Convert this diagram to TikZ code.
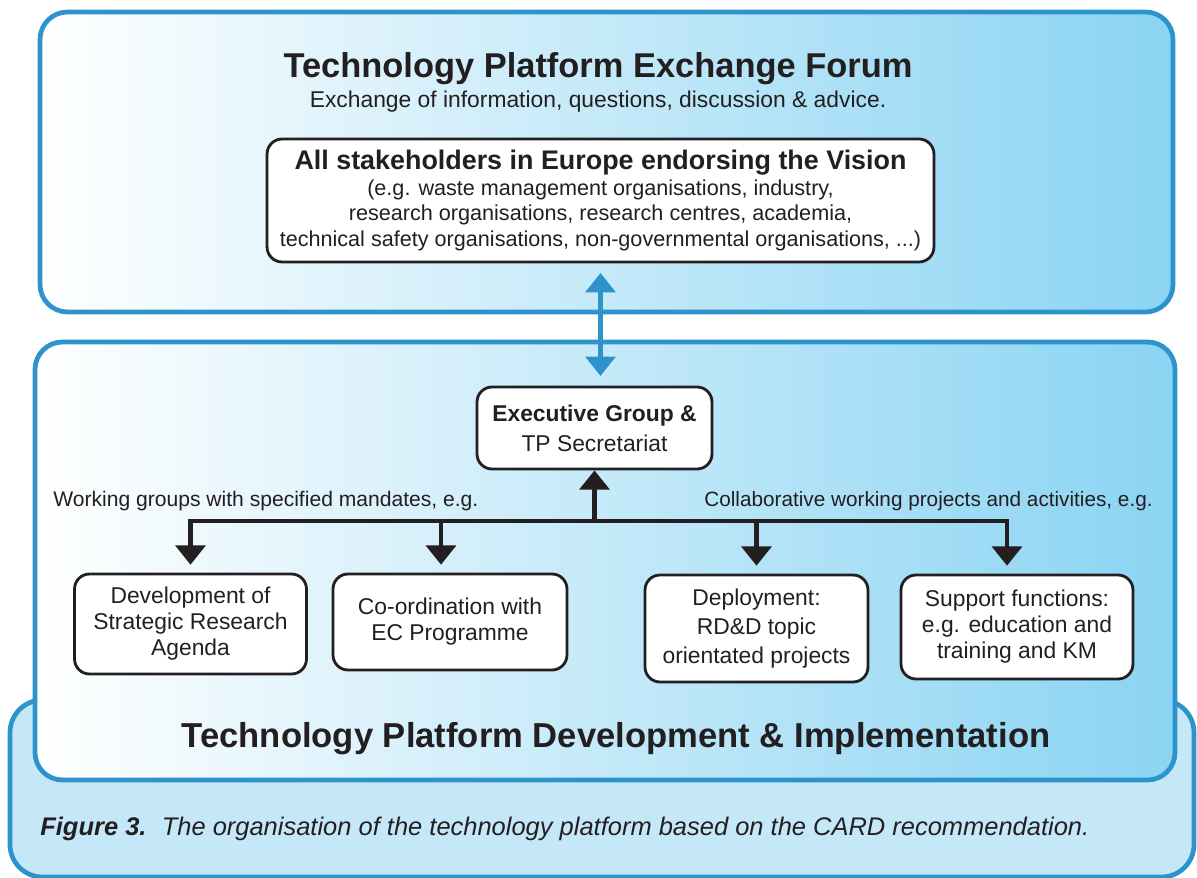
\documentclass[tikz,border=0pt]{standalone}
\usepackage{fontspec}
\setmainfont{Liberation Sans}
\usetikzlibrary{arrows.meta,positioning,calc}
\definecolor{panelblue}{HTML}{2E93CB}
\definecolor{panelsky}{HTML}{8AD4F3}
\definecolor{panelpale}{HTML}{C5E8F9}
\definecolor{ink}{HTML}{231F20}
\tikzstyle{panelstyle}=[
    draw=panelblue,
    line width=2.7pt,
    rounded corners=0.55cm,
    left color=white,
    right color=panelsky,
]
\tikzstyle{whitebox}=[
    draw=ink, fill=white,
    line width=1.6pt,
    rounded corners=0.3cm,
    align=center,
    inner sep=0pt,
]
\tikzstyle{bararrow}=[
    draw=ink,
    line width=2.3pt,
    -{Triangle[width=17pt,length=11pt]},
]
\tikzstyle{linkarrow}=[
    draw=panelblue,
    line width=2.3pt,
    {Triangle[width=17pt,length=11pt]}-{Triangle[width=17pt,length=11pt]},
]
\newcommand{\bodyfont}{\fontsize{13}{14.8}\selectfont}

\begin{document}
\begin{tikzpicture}[x=0.02cm, y=-0.02cm, every node/.append style={text=ink}]
        \useasboundingbox (0,0) rectangle (1197,878);
        % panels
        \path[draw=panelblue, line width=2.7pt, fill=panelpale, rounded corners=0.65cm] (10,700) rectangle (1194,877);
        \path[panelstyle] (35,342) rectangle (1175,780);
        \path[panelstyle] (40,12) rectangle (1173,312);
        % exchange forum
        \node[anchor=base, font=\fontsize{19.6}{23}\selectfont\bfseries] (forumtitle) at (598,78) {Technology Platform Exchange Forum};
        \node[anchor=base, font=\fontsize{13}{16}\selectfont] (forumsub) at (598,108) {Exchange of information, questions, discussion \& advice.};
        \node[whitebox, minimum width=13.34cm, minimum height=2.46cm, font=\fontsize{12.3}{14.5}\selectfont] (stake) at (600.5,200.5)
            {\rule{0pt}{8pt}{\fontsize{15.3}{14.5}\selectfont\bfseries All stakeholders in Europe endorsing the Vision}\\
             (e.g. waste management organisations, industry,\\
             research organisations, research centres, academia,\\
             technical safety organisations, non-governmental organisations, ...)};
        % executive group
        \node[whitebox, minimum width=4.7cm, minimum height=1.64cm, font=\fontsize{13}{17}\selectfont] (exec) at (594.5,428)
            {\textbf{Executive Group \&}\\TP Secretariat};
        \draw[linkarrow, shorten <=5.5pt, shorten >=5.5pt] (stake.south) -- (stake.south |- exec.north);
        % working groups and projects
        \node[whitebox, minimum width=4.64cm, minimum height=2cm, font=\bodyfont] (sra) at (190.5,624)
            {Development of\\Strategic Research\\Agenda};
        \node[whitebox, minimum width=4.68cm, minimum height=1.92cm, font=\bodyfont] (ecprog) at (450,622)
            {Co-ordination with\\EC Programme};
        \node[whitebox, minimum width=4.46cm, minimum height=2.14cm, font=\fontsize{13}{16.4}\selectfont] (deploy) at (756.5,628.5)
            {Deployment:\\RD\&D topic\\orientated projects};
        \node[whitebox, minimum width=4.64cm, minimum height=2.08cm, font=\bodyfont] (support) at (1017,627)
            {Support functions:\\e.g. education and\\training and KM};
        \node[anchor=base west, inner sep=0pt, font=\fontsize{12}{14}\selectfont] (wglabel) at (53,506) {Working groups with specified mandates, e.g.};
        \node[anchor=base east, inner sep=0pt, font=\fontsize{11.8}{14}\selectfont] (cwlabel) at (1153,506) {Collaborative working projects and activities, e.g.};
        \coordinate[below=1.02cm of exec.south] (bus);
        \draw[bararrow] (bus) -- (exec.south);
        \draw[draw=ink, line width=2.3pt, line cap=rect] (sra.north |- bus) -- ($(support.north |- bus)+(-10,0)$);
        \foreach \b/\dx in {sra/0,ecprog/-9,deploy/0,support/-10}
            \draw[bararrow, shorten >=4.5pt] ($(\b.north |- bus)+(\dx,0)$) -- ($(\b.north)+(\dx,0)$);
        \node[anchor=base, font=\fontsize{19.7}{23}\selectfont\bfseries] (devtitle) at (616,747) {Technology Platform Development \& Implementation};
        % caption
        \node[anchor=base west, inner sep=0pt, font=\fontsize{14.5}{17}\selectfont\itshape] (caption) at (40,835)
            {{\bfseries Figure 3.}\hspace{0.6em}The organisation of the technology platform based on the CARD recommendation.};
\end{tikzpicture}
\end{document}
